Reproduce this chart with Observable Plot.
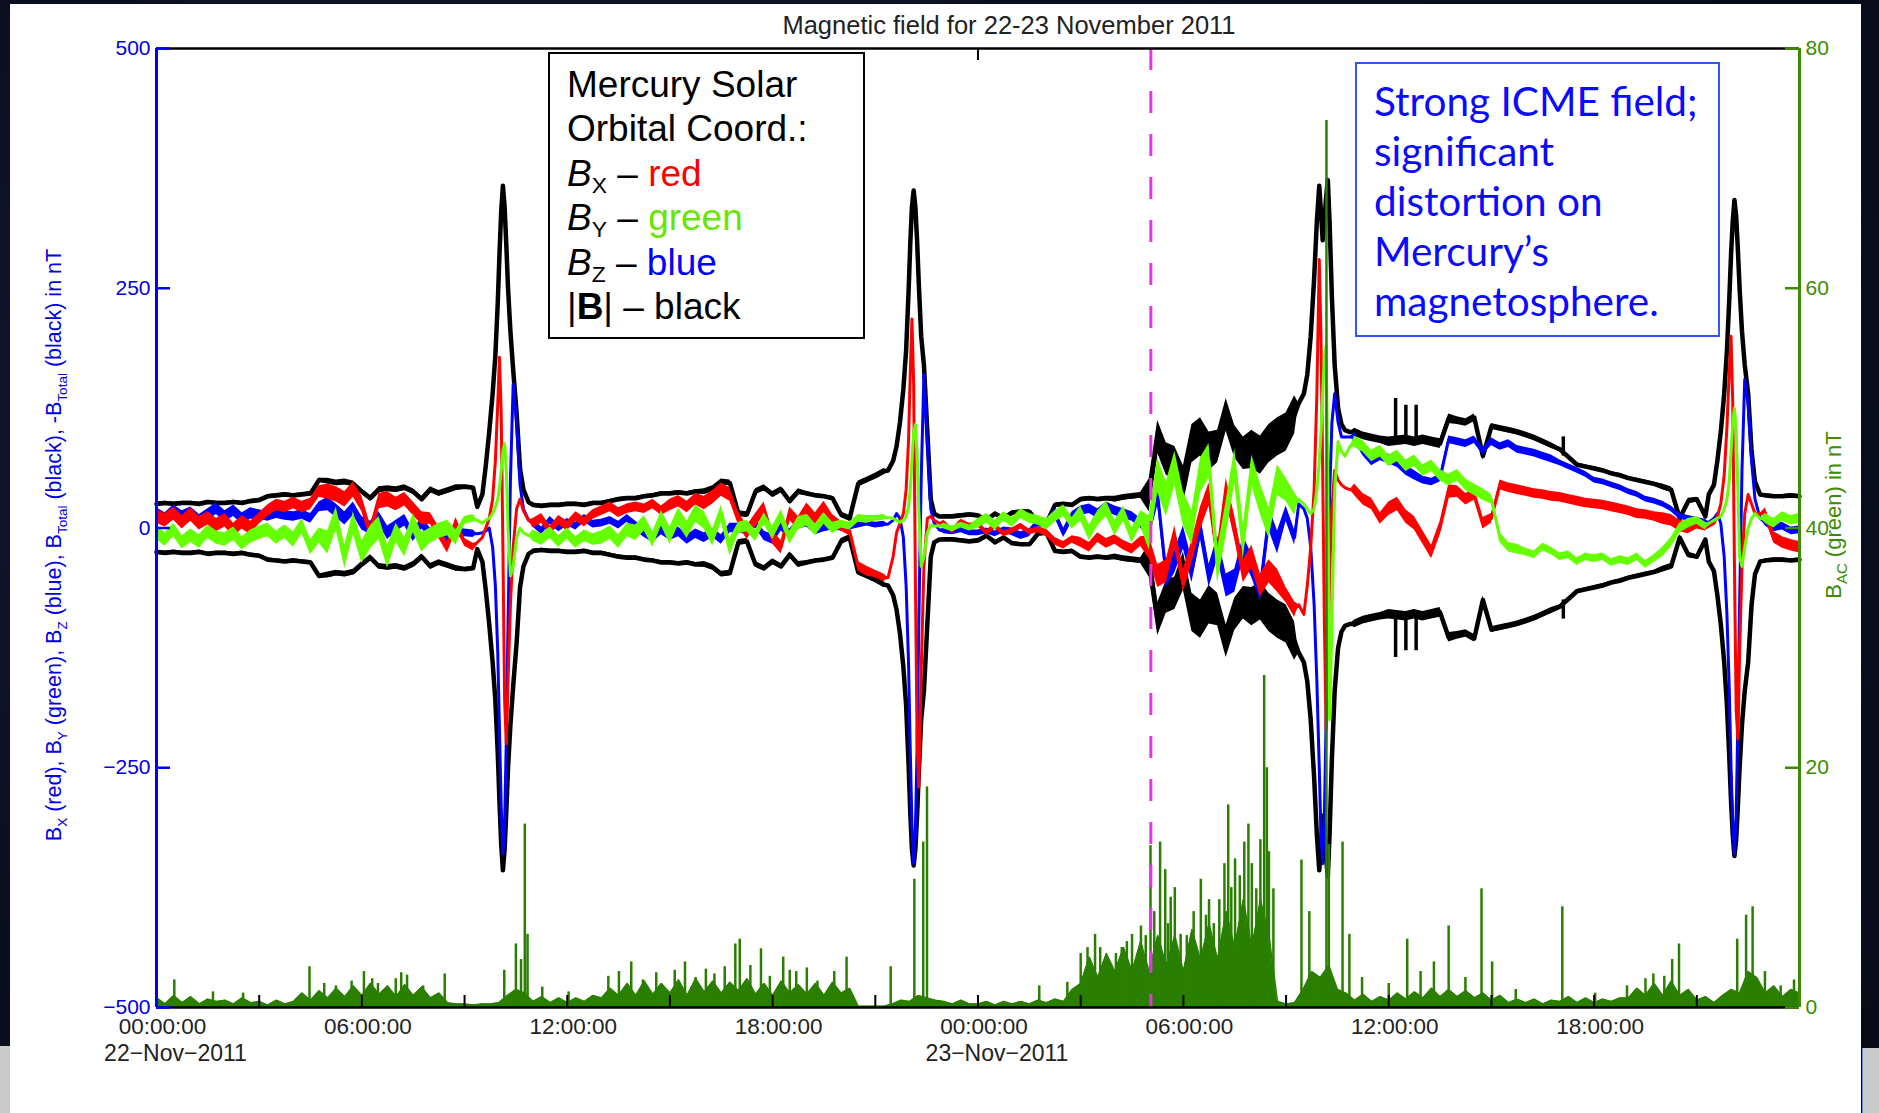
<!DOCTYPE html>
<html>
<head>
<meta charset="utf-8">
<script src="https://cdn.jsdelivr.net/npm/d3@7"></script>
<script src="https://cdn.jsdelivr.net/npm/@observablehq/plot@0.6"></script>
<style>
  html, body { margin: 0; padding: 0; }
  body { width: 1879px; height: 1113px; overflow: hidden; position: relative;
         background: radial-gradient(ellipse at 30% 40%, #151a36 0%, #0b0e1f 60%, #080a17 100%);
         font-family: "Liberation Sans", Arial, Helvetica, sans-serif; }
  #panel { position: absolute; left: 10px; top: 4px; width: 1851px; height: 1109px; background: #fff; }
  #cornerL { position: absolute; left: 0; top: 1046px; width: 10px; height: 67px; background: #c9c9c9; }
  #cornerR { position: absolute; left: 1862px; top: 1048px; width: 17px; height: 65px; background: #c9c9c9; border-left: 1px solid #6b8fd6; }
  #chart { position: absolute; left: 0; top: 0; }
  #legend { position: absolute; left: 548px; top: 52px; width: 317px; height: 287px; box-sizing: border-box;
            border: 2px solid #000; background: #fff; padding: 9px 0 0 17px;
            font-family: "Liberation Sans", Arial, sans-serif; font-size: 37px; line-height: 44.4px; color: #000; }
  #legend sub { font-size: 62%; line-height: 0; vertical-align: -0.32em; }
  #note { position: absolute; left: 1355px; top: 62px; width: 365px; height: 275px; box-sizing: border-box;
          border: 2px solid #2f55ff; background: #fff; padding: 12px 0 0 17px;
          font-family: Lato, "Open Sans", sans-serif; font-size: 40.5px; line-height: 50px; color: #0a0aff; }
</style>
</head>
<body>
<div id="panel"></div>
<div id="cornerL"></div>
<div id="cornerR"></div>
<div id="chart"></div>
<div id="legend">
  <div>Mercury Solar</div>
  <div>Orbital Coord.:</div>
  <div><i>B</i><sub>X</sub> – <span style="color:#ff0000">red</span></div>
  <div><i>B</i><sub>Y</sub> – <span style="color:#66e600">green</span></div>
  <div><i>B</i><sub>Z</sub> – <span style="color:#0000ff">blue</span></div>
  <div>|<b>B</b>| – black</div>
</div>
<div id="note">Strong ICME field;<br>significant<br>distortion on<br>Mercury’s<br>magnetosphere.</div>
<script>
// ---------------- DATA (hours since 22-Nov-2011 00:00 UT) ----------------
const titleText = "Magnetic field for 22-23 November 2011";
const xLabelHours = [0, 6, 12, 18, 24, 30, 36, 42];
const xMinorTickHours = [3, 6, 9, 12, 15, 18, 21, 24, 27, 30, 33, 36, 39, 42, 45];
const dateLabelHours = [0, 24];
const dateLabels = ["22\u2212Nov\u22122011", "23\u2212Nov\u22122011"];
const fieldTicks = [-500, -250, 0, 250, 500];
const bacTicks = [0, 20, 40, 60, 80];
const icmeArrivalHour = 29.05;

// quiet-time samples every 0.25 h (193 values, 0..48 h), in nT
const btotQuiet = [
 25,26,25,26, 26,25,27,26, 26,27,26,28, 29,33,34,35, 34,35,36,50, 49,47,48,46,
 38,31,40,41, 40,42,38,30, 40,36,39,42, 43,42,22,50, 300,300,100,30, 24,23,24,24,
 25,25,24,26, 26,28,30,31, 31,33,34,36, 36,37,36,38, 38,41,48,47, 15,14,38,42,
 35,40,28,38, 36,34,33,31, 14,10,46,50, 54,59,62,100, 300,300,100,20, 12,12,13,14,
 13,8,15,10, 16,17,17,6, 5,24,25,24, 30,31,30,31, 30,32,33,34, 34,95,72,68,
 45,88,95,80, 85,118,90,78, 82,76,88,95, 100,118,130,150, 300,300,150,110, 100,96,94,92,
 90,91,92,90, 92,90,88,114, 112,110,115,75, 106,104,102,100, 97,94,90,86, 82,74,66,64,
 62,60,57,55, 52,50,48,46, 43,40,10,28, 30,12,40,70, 300,300,100,40, 34,33,33,34,
 33];
const bxQuiet = [
 12,8,15,6, 14,5,10,3, 8,-2,6,0, 10,18,24,22, 26,22,25,38, 38,35,30,40,
 25,-5,28,30, 25,30,20,10, 10,-5,-20,5, -15,-20,0,0, 0,0,0,0, 5,10,-3,8,
 2,12,6,14, 18,22,16,20, 22,20,25,18, 24,28,22,30, 26,32,40,35, 10,-5,8,20,
 -10,-20,15,5, 20,10,22,8, 2,-3,-40,-45, -48,-52,0,0, 0,0,0,0, 5,-3,6,2,
 4,-5,2,-6, -3,2,-4,-2, -5,-14,-18,-12, -15,-20,-10,-16, -12,-18,-22,-14, -20,-50,-45,-10,
 -55,-25,10,35, -30,40,0,-45, -30,-60,-45,-55, -70,-85,0,0, 0,0,0,0, 40,30,25,10,
 20,25,12,5, -10,-25,0,38, 38,30,35,5, 10,45,42,40, 38,36,35,33, 32,30,28,26,
 25,24,22,20, 18,15,14,12, 10,8,2,0, 2,0,0,0, 0,0,0,0, 15,-10,-15,-18,
 -20];
const byQuiet = [
 -5,-12,-2,-15, -8,-14,-4,-10, -12,-6,-16,-9, -5,-2,-10,-4, -12,2,-20,-8, -15,10,-30,5,
 -25,-10,0,-30, -5,-20,5,-15, -8,-3,0,-10, 8,10,0,0, 0,0,0,0, -8,-12,-5,-14,
 -6,-15,-8,-12, -10,-5,-14,-2, -5,5,-12,10, -8,12,-2,15, 8,-10,15,-20, 0,2,-8,10,
 -5,12,-10,5, 8,-2,10,0, 4,2,10,9, 10,11,0,0, 0,0,0,0, 2,-1,3,0,
 5,10,3,12, 6,15,10,8, 4,12,18,5, 15,-5,10,20, 0,15,-8,10, -5,55,30,62,
 20,0,55,70, -40,10,65,-15, 60,30,5,50, 40,25,0,0, 0,0,0,0, 90,85,75,80,
 70,75,65,70, 60,65,55,50, 55,45,40,35, 30,-10,-20,-22, -25,-28,-20,-24, -30,-28,-35,-30,
 -32,-30,-36,-33, -35,-30,-38,-32, -25,-15,0,5, 8,2,0,0, 0,0,0,0, 10,5,12,8,
 10];
const bzQuiet = [
 15,10,18,12, 16,8,14,20, 12,18,10,15, 14,12,15,13, 12,14,10,22, 25,18,10,20,
 5,0,10,-5, 2,8,-8,5, -5,0,-10,-5, -5,-6,0,0, 0,0,0,0, 5,-3,8,0,
 6,2,10,4, 5,8,3,10, 2,-5,-10,-2, -8,-4,-12,-6, -10,-5,-12,0, 0,-2,5,-8,
 -12,2,-6,4, 5,-3,0,2, 0,1,3,5, 3,4,0,0, 0,0,0,0, -3,-4,-2,-5,
 -5,-3,-6,-2, -4,-8,-5,5, 5,15,-5,12, 18,20,15,22, 18,15,12,5, 0,35,-50,-35,
 -10,-45,0,-50, -20,-60,-55,-20, -40,-65,10,-15, 15,-10,0,0, 0,0,0,0, 95,80,70,75,
 72,68,60,55, 50,48,52,92, 90,88,92,80, 90,85,88,82, 80,78,75,72, 68,64,60,56,
 50,48,45,42, 38,35,30,28, 25,20,12,10, 8,6,0,0, 0,0,0,0, 6,0,2,-3,
 -2];

// half-width of the high-frequency scatter of each trace, per hour bin (48 values, nT)
const btotSpread = [2,2,2,2,2,3,3,3,3,2, 0,2,2,2,2,2,3,3,3,2, 3,3,0,2,2,2,2,2, 3,17,20,17,20,20, 0,4,5,5,4,3, 3,2,2,2,3,2, 0,2];
const bxSpread   = [7,7,7,6,6,8,8,7,6,4, 0,5,5,5,5,6,7,7,7,6, 5,4,0,3,3,3,4,5, 5,12,12,12,12,8, 0,6,7,7,6,5, 5,5,5,5,6,3, 0,6];
const bySpread   = [7,7,7,7,8,12,12,10,8,4, 0,6,6,7,8,9,9,6,7,6, 4,3,0,3,5,5,6,8, 8,18,18,18,16,12, 0,6,6,6,6,5, 4,4,4,4,5,4, 0,5];
const bzSpread   = [6,6,6,5,5,7,7,6,5,4, 0,4,4,4,5,5,5,5,5,4, 3,3,0,3,3,4,5,5, 5,12,12,12,12,8, 0,5,5,4,4,4, 4,3,3,3,3,3, 0,4];

// periapsis passes: centre hours and offsets (h) of the denser samples
const passCenters = [10.12, 22.12, 34.12, 46.1];
const passOffsets = [-0.75,-0.6,-0.5,-0.4,-0.3,-0.22,-0.15,-0.1,-0.05,0,0.05,0.1,0.15,0.22,0.3,0.4,0.5,0.6,0.75];
const btotPass = [
 [22,35,65,100,140,180,235,285,330,357,335,295,250,205,165,120,62,40,27],
 [60,70,85,110,145,185,245,295,335,352,335,300,255,200,170,100,30,15,12],
 [130,140,160,200,260,320,357,330,300,320,345,363,320,240,170,125,108,102,100],
 [35,45,70,100,140,185,240,285,320,342,325,290,250,205,170,140,80,48,35]];
const bxPass = [
 [-15,-10,0,10,30,70,130,178,120,-20,-180,-225,-160,-80,-20,20,30,18,8],
 [-52,-30,-5,5,15,40,90,160,218,150,-50,-220,-270,-150,-40,10,12,8,5],
 [-80,-90,-60,-20,40,140,280,200,60,-100,-210,-150,-50,20,60,50,45,42,40],
 [2,5,12,25,55,105,165,200,130,-40,-190,-220,-130,-40,15,35,25,15,15]];
const byPass = [
 [8,5,8,10,15,22,30,42,60,80,88,60,0,-50,-40,-10,0,-5,-8],
 [11,10,8,6,8,12,22,40,70,100,108,80,20,-40,-30,-5,3,2,2],
 [30,25,20,15,20,40,70,100,140,180,190,60,-200,-100,40,90,80,75,85],
 [5,8,10,12,20,30,50,80,110,125,100,40,-30,-40,-20,0,10,15,10]];
const bzPass = [
 [-6,-5,-3,0,-20,-60,-130,-210,-290,-340,-310,-220,-100,50,150,110,45,20,8],
 [4,8,15,10,-10,-60,-140,-230,-310,-350,-320,-230,-100,50,160,90,20,5,-2],
 [25,20,10,-20,-80,-160,-250,-320,-350,-300,-200,-80,30,110,140,110,95,95,95],
 [6,10,15,5,-30,-90,-170,-250,-310,-340,-300,-200,-80,60,155,130,70,30,10]];

// short |B| excursions (hour, base, top) in nT
const btotSpikeHours = [36.2, 36.5, 36.8, 41.1];
const btotSpikeBase = [90, 90, 90, 75];
const btotSpikeTop = [135, 128, 128, 95];

// B_AC (nT, right axis): background level every 0.25 h + individual bursts
const bacFloor = [
 0.8,0.3,1.0,0.4, 0.9,0.3,0.7,0.5, 0.6,0.3,0.8,0.4, 0.5,0.2,0.6,0.3, 0.5,1.2,0.6,1.4, 0.8,1.6,0.9,1.8,
 1.0,2.0,1.1,1.8, 0.9,1.9,1.0,1.7, 0.8,1.2,0.4,0.3, 0.3,0.2,0.3,0.3, 0.4,1.0,1.5,1.2, 0.5,0.9,0.4,0.8,
 0.4,0.8,0.5,1.0, 0.8,1.6,1.0,2.0, 1.0,2.2,1.1,2.0, 1.2,2.3,1.0,2.4, 1.3,2.2,1.2,2.1, 1.4,2.4,1.1,2.0,
 1.0,2.2,1.2,1.9, 1.1,2.0,1.0,2.1, 1.2,1.6,0.1,0.1, 0.1,0.1,0.3,0.6, 0.5,1.0,0.8,0.6, 0.5,0.3,0.6,0.3,
 0.3,0.5,0.2,0.5, 0.3,0.5,0.3,0.6, 0.4,0.7,0.5,1.5, 2.0,4.2,2.5,4.5, 3.0,5.0,3.0,5.5, 3.0,6.0,3.5,6.0,
 3.0,6.5,4.0,7.0, 4.0,8.0,5.0,9.0, 5.0,9.0,6.0,0.5, 0.3,0.4,1.5,3.0, 2.5,3.5,1.5,1.2, 0.6,1.1,0.5,0.9,
 0.6,1.2,0.7,1.3, 0.8,1.6,0.9,1.5, 0.9,1.4,0.8,1.2, 0.6,1.0,0.4,0.7, 0.4,0.7,0.3,0.6, 0.5,0.9,0.4,0.8,
 0.4,0.7,0.5,0.8, 0.8,1.6,1.0,2.0, 1.0,2.2,1.0,1.5, 0.6,0.9,0.4,1.0, 1.5,1.2,3.0,2.5, 1.2,1.8,0.9,1.5,
 1.2];
const bacBurstHours = [
 0.52,1.65,2.53,4.47,4.9,5.24,5.7,6.06,6.3,6.47,6.99,7.15,7.32,7.79,8.42,10.16,10.5,10.65,10.76,10.84,11.27,12.04,
 13.2,13.51,13.87,14.21,14.6,15.14,15.44,15.75,16.05,16.3,16.6,16.91,17.04,17.35,17.66,17.92,18.31,18.5,18.69,19.0,19.31,19.8,20.16,21.45,
 22.14,22.4,22.51,25.79,26.61,27.0,27.2,27.42,27.57,27.8,28.03,28.2,28.35,28.5,28.76,28.9,29.04,29.15,29.32,29.47,29.55,29.63,29.75,29.92,
 30.1,30.3,30.51,30.66,30.75,30.89,31.05,31.2,31.31,31.4,31.51,31.65,31.78,31.9,32.0,32.13,32.25,32.36,32.44,32.5,32.63,33.45,33.68,34.18,34.25,34.65,
 34.85,35.22,36.0,36.54,36.93,37.32,37.75,38.24,38.71,39.02,39.71,41.07,42.03,42.96,43.5,43.73,44.05,44.28,
 44.48,46.18,46.44,46.63,46.99,47.45,47.84];
const bacBurstValues = [
 2.3,1.3,1.2,3.4,2.0,1.8,2.2,3.0,2.4,2.0,2.4,2.9,2.7,1.8,2.8,3.1,5.3,4.0,15.3,6.1,1.7,1.3,
 2.6,3.0,3.8,2.3,2.9,3.1,3.8,2.5,3.2,2.8,3.4,5.3,5.7,3.5,4.9,2.6,4.2,3.1,3.0,3.3,2.2,3.0,4.2,3.4,
 10.7,13.8,18.4,1.8,2.1,4.5,5.0,6.1,5.0,4.0,4.5,5.0,5.5,6.1,6.8,6.0,13.5,8.0,13.8,11.5,7.0,9.2,10.0,6.1,
 6.0,8.0,10.7,7.7,9.0,7.0,9.0,12.0,16.9,10.0,12.4,11.0,13.8,15.3,12.0,9.9,14.0,27.7,20.0,13.0,9.9,12.3,8.0,74.0,13.6,13.8,
 6.1,2.5,2.0,5.7,3.0,3.8,6.8,2.5,9.9,3.8,1.5,8.4,1.2,1.8,2.4,2.8,2.6,4.0,
 5.3,5.7,7.7,8.4,3.0,1.8,2.3];

// ---------------- BUILD ----------------
const gridStep = 0.25;
const gridHours = d3.range(btotQuiet.length).map(i => i * gridStep);
const passHalfWidth = 0.75;
const inPass = h => passCenters.some(c => Math.abs(h - c) < passHalfWidth + 1e-9);
function buildSeries(quiet, passes, spread) {
  const rows = [];
  gridHours.forEach((h, i) => { if (!inPass(h)) rows.push({h, v: quiet[i]}); });
  passCenters.forEach((c, p) => passOffsets.forEach((o, j) => rows.push({h: c + o, v: passes[p][j]})));
  rows.sort((a, b) => a.h - b.h);
  rows.forEach(r => { r.s = inPass(r.h) ? 0 : spread[Math.min(47, Math.floor(r.h))]; });
  return rows;
}
const btot = buildSeries(btotQuiet, btotPass, btotSpread);
const bx = buildSeries(bxQuiet, bxPass, bxSpread);
const by = buildSeries(byQuiet, byPass, bySpread);
const bz = buildSeries(bzQuiet, bzPass, bzSpread);
const bacRows = gridHours.map((h, i) => ({h, v: bacFloor[i]}));
const bursts = bacBurstHours.map((h, i) => ({h, v: bacBurstValues[i]}));
const btSpikes = btotSpikeHours.map((h, i) => ({h, lo: btotSpikeBase[i], hi: btotSpikeTop[i]}));
const dates = dateLabelHours.map((h, i) => ({h, label: dateLabels[i]}));

// B_AC shares the vertical space: 0..80 nT  <->  -500..500 nT
const bacToField = v => -500 + v * 12.5;
const fieldToBac = v => (v + 500) / 12.5;

const BLUE = "#0000ff", RED = "#ff0000", LIME = "#66ff00", BAC = "#2a7f00", AXG = "#3d8b00", MAG = "#e535e5";
const W = 1879, H = 1113, ML = 156, MR = 80, MT = 48, MB = 106;
const frameW = W - ML - MR, frameH = H - MT - MB;

function trace(rows, color, width) {
  return [
    Plot.areaY(rows, {x: "h", y1: d => d.v - d.s, y2: d => d.v + d.s, fill: color}),
    Plot.line(rows, {x: "h", y: "v", stroke: color, strokeWidth: width, strokeLinejoin: "round"})
  ];
}

const chart = Plot.plot({
  width: W, height: H,
  marginLeft: ML, marginRight: MR, marginTop: MT, marginBottom: MB,
  style: {background: "transparent", fontFamily: "'Liberation Sans', Arial, sans-serif", overflow: "visible"},
  x: {domain: [0, 48]},
  y: {domain: [-500, 500]},
  marks: [
    // |B| and -|B|
    Plot.areaY(btot, {x: "h", y1: d => d.v - d.s, y2: d => d.v + d.s, fill: "#000"}),
    Plot.areaY(btot, {x: "h", y1: d => -d.v + d.s, y2: d => -d.v - d.s, fill: "#000"}),
    Plot.line(btot, {x: "h", y: "v", stroke: "#000", strokeWidth: 4.5, strokeLinejoin: "round"}),
    Plot.line(btot, {x: "h", y: d => -d.v, stroke: "#000", strokeWidth: 4.5, strokeLinejoin: "round"}),
    Plot.ruleX(btSpikes, {x: "h", y1: "lo", y2: "hi", stroke: "#000", strokeWidth: 3.5}),
    Plot.ruleX(btSpikes, {x: "h", y1: d => -d.lo, y2: d => -d.hi, stroke: "#000", strokeWidth: 3.5}),
    // components
    ...trace(bz, BLUE, 3),
    ...trace(bx, RED, 3),
    ...trace(by, LIME, 3),
    // B_AC
    Plot.areaY(bacRows, {x: "h", y1: bacToField(0), y2: d => bacToField(d.v), fill: BAC}),
    Plot.line(bacRows, {x: "h", y: d => bacToField(d.v), stroke: BAC, strokeWidth: 1.5}),
    Plot.ruleX(bursts, {x: "h", y1: bacToField(0), y2: d => bacToField(d.v), stroke: BAC, strokeWidth: 2.5}),
    // ICME arrival
    Plot.ruleX([icmeArrivalHour], {y1: 500, y2: -500, stroke: MAG, strokeWidth: 3, strokeDasharray: "22,21"}),
    // frame
    Plot.ruleY([500], {stroke: "#000", strokeWidth: 2.5}),
    Plot.ruleY([-500], {stroke: "#000", strokeWidth: 2.5}),
    Plot.ruleX([0], {stroke: BLUE, strokeWidth: 3}),
    Plot.ruleX([48], {stroke: AXG, strokeWidth: 3}),
    // inward ticks
    Plot.tickY(fieldTicks, {y: d => d, stroke: BLUE, strokeWidth: 2.5, insetRight: frameW - 14}),
    Plot.tickY(bacTicks, {y: d => bacToField(d), stroke: AXG, strokeWidth: 2.5, insetLeft: frameW - 14}),
    Plot.tickX(xMinorTickHours, {x: d => d, stroke: "#000", strokeWidth: 2, insetTop: frameH - 12}),
    Plot.tickX([24], {x: d => d, stroke: "#000", strokeWidth: 2, insetBottom: frameH - 12}),
    // axes
    Plot.axisX({ticks: xLabelHours, tickFormat: h => String(h % 24).padStart(2, "0") + ":00:00",
                tickSize: 0, tickPadding: 11, dx: 6, fontSize: 22.5, color: "#222", label: null}),
    Plot.axisY({anchor: "left", ticks: fieldTicks, tickSize: 0, tickPadding: 6, fontSize: 21, color: "#0000e0", label: null}),
    Plot.axisY({anchor: "right", ticks: bacTicks.map(bacToField), tickFormat: v => Math.round(fieldToBac(v)),
                tickSize: 0, tickPadding: 6, fontSize: 21, color: AXG, label: null}),
    Plot.text(dates, {x: "h", y: -500, text: "label", dy: 46, dx: 19, fontSize: 23, fill: "#222"}),
    Plot.text([titleText], {frameAnchor: "top", dx: 31, dy: -33, fontSize: 25.5, fill: "#222"})
  ]
});
document.getElementById("chart").appendChild(chart);

// rotated axis titles with subscripts
function addRotatedTitle(x, y, color, size, subSize, parts) {
  const t = d3.select(chart).append("text")
    .attr("transform", `translate(${x},${y}) rotate(-90)`)
    .attr("text-anchor", "middle").attr("fill", color)
    .attr("font-size", size).attr("font-family", "'Liberation Sans', Arial, sans-serif");
  let shifted = false;
  parts.forEach(([s, sub]) => {
    const ts = t.append("tspan").text(s);
    if (sub && !shifted) { ts.attr("dy", 6).attr("font-size", subSize); shifted = true; }
    else if (!sub && shifted) { ts.attr("dy", -6); shifted = false; }
  });
}
addRotatedTitle(61, 545, "#0000e0", 21.5, 13.5, [
  ["B", 0], ["X", 1], [" (red), B", 0], ["Y", 1], [" (green), B", 0], ["Z", 1], [" (blue), B", 0],
  ["Total", 1], [" (black), -B", 0], ["Total", 1], [" (black) in nT", 0]]);
addRotatedTitle(1841, 515, AXG, 22, 15, [["B", 0], ["AC", 1], [" (green) in nT", 0]]);
</script>
</body>
</html>
